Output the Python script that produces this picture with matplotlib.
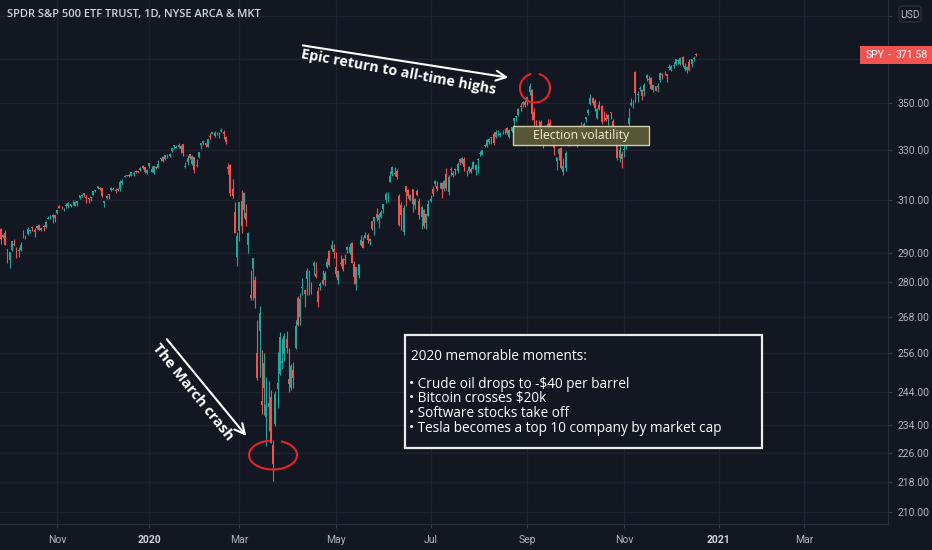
import matplotlib
matplotlib.use("Agg")
import matplotlib.pyplot as plt
import matplotlib.transforms as mtransforms
from matplotlib.patches import Rectangle, Arc, FancyBboxPatch
import pandas as pd

# SPY daily candles, 27 Sep 2019 - 17 Dec 2020
opens = [
    # Sep 2019
    299.0, 295.9,
    # Oct 2019
    297.7, 291.5, 287.8, 291.1, 293.6, 291.0, 290.8, 291.2, 296.3, 295.9, 297.1, 298.4,
    299.7, 298.7, 299.4, 300.6, 298.7, 300.0, 299.7, 302.9, 303.0, 303.4, 304.1,
    # Nov 2019
    304.9, 307.9, 307.1, 306.8, 307.8, 307.6, 307.6, 308.7, 307.8, 308.7, 310.9, 311.5,
    312.7, 311.3, 310.8, 311.1, 312.1, 313.4, 314.6, 314.8,
    # Dec 2019
    314.6, 308.7, 310.7, 312.2, 314.1, 314.4, 313.8, 314.0, 314.4, 316.8, 319.2, 319.8,
    320.0, 319.5, 320.4, 321.6, 321.5, 321.7, 323.7, 323.0, 320.5,
    # Jan 2020
    323.5, 321.2, 320.5, 323.0, 322.9, 326.2, 327.3, 326.4, 327.5, 327.4, 329.7, 331.7,
    330.9, 332.1, 330.6, 332.4, 323.0, 325.0, 328.4, 324.4, 327.0,
    # Feb 2020
    323.4, 327.1, 332.3, 333.0, 332.8, 331.2, 336.0, 336.9, 335.9, 337.5, 336.5, 337.8,
    337.7, 335.5, 323.1, 323.9, 314.2, 305.5, 288.7,
    # Mar 2020
    298.2, 309.5, 306.1, 305.0, 293.1, 275.3, 284.6, 280.7, 256.0, 263.1, 241.2, 245.0,
    236.3, 239.3, 242.5, 228.2, 234.4, 244.9, 249.5, 252.8, 255.7, 260.6,
    # Apr 2020
    248.0, 245.2, 250.8, 257.8, 274.2, 268.0, 277.6, 277.1, 281.0, 277.6, 279.2, 285.4,
    282.6, 276.7, 278.4, 280.5, 280.7, 285.1, 291.0, 291.5, 291.7,
    # May 2020
    285.3, 280.7, 286.6, 288.0, 287.8, 291.1, 290.3, 293.8, 286.1, 279.0, 282.4, 293.1,
    294.4, 295.8, 296.8, 294.6, 301.9, 302.1, 304.7, 302.5,
    # Jun 2020
    303.6, 306.6, 310.2, 311.1, 317.2, 320.2, 320.3, 321.4, 311.5, 308.2, 298.0, 315.5,
    314.1, 310.0, 314.2, 308.0, 313.5, 309.8, 303.5, 306.2, 301.4, 304.0,
    # Jul 2020
    309.6, 314.2, 316.4, 315.4, 316.2, 316.8, 314.3, 320.1, 313.3, 322.4, 319.8, 322.4,
    321.4, 326.5, 324.6, 326.5, 321.0, 321.6, 322.4, 322.1, 321.9, 325.9,
    # Aug 2020
    328.3, 327.9, 331.5, 331.5, 333.3, 335.1, 336.9, 335.4, 336.6, 336.4, 337.9, 338.3,
    339.1, 335.4, 337.9, 342.1, 344.1, 344.8, 348.5, 349.4, 350.4,
    # Sep 2020
    350.4, 354.7, 355.9, 346.1, 336.7, 337.6, 341.8, 335.8, 337.5, 341.1, 341.5, 333.6,
    335.4, 325.7, 328.6, 330.9, 321.2, 322.6, 333.2, 334.0, 333.1,
    # Oct 2020
    337.7, 331.7, 336.1, 339.9, 338.1, 342.9, 345.6, 349.6, 352.3, 350.8, 343.7, 349.0,
    348.7, 343.5, 343.3, 343.0, 345.9, 342.1, 339.8, 332.1, 326.9, 328.3,
    # Nov 2020
    330.2, 333.7, 340.9, 349.2, 349.9, 364.0, 353.5, 356.4, 355.6, 355.3, 361.0, 360.0,
    360.9, 355.6, 357.5, 357.3, 360.2, 363.1, 363.8, 362.8,
    # Dec 2020
    365.6, 364.8, 366.7, 367.3, 369.0, 367.7, 370.9, 365.4, 364.9, 368.6, 367.4, 369.8,
    371.9,
]

highs = [
    299.3, 297.3,
    298.5, 291.5, 290.5, 294.7, 295.4, 292.3, 292.3, 294.2, 298.7, 296.7, 299.7, 299.1,
    300.2, 299.4, 300.2, 300.9, 299.7, 300.5, 302.2, 303.9, 304.2, 304.5, 304.1,
    306.2, 308.0, 307.9, 307.1, 309.0, 309.1, 308.6, 310.1, 309.5, 309.8, 311.8, 312.2,
    312.7, 311.9, 311.0, 311.2, 313.4, 314.1, 315.5, 315.1,
    314.7, 309.7, 312.1, 312.3, 315.3, 315.2, 314.6, 314.7, 318.0, 318.4, 320.0, 320.0,
    320.3, 320.9, 321.6, 321.7, 321.5, 323.0, 323.8, 323.1, 322.1,
    324.9, 323.6, 323.7, 323.5, 325.8, 326.7, 327.5, 328.0, 328.6, 329.0, 331.0, 332.0,
    332.2, 332.9, 332.0, 332.6, 325.1, 327.9, 328.6, 327.9, 327.2,
    326.2, 329.1, 333.1, 334.2, 333.0, 334.8, 337.0, 337.6, 338.1, 337.7, 337.7, 339.1,
    338.6, 336.0, 324.6, 324.2, 318.1, 309.2, 297.9,
    309.2, 313.8, 313.1, 308.5, 297.9, 284.2, 288.5, 281.9, 266.7, 271.5, 256.9, 256.2,
    248.4, 247.4, 244.5, 229.7, 244.1, 256.4, 262.8, 260.8, 262.4, 263.3,
    257.7, 252.7, 253.3, 267.0, 275.0, 276.0, 281.2, 277.5, 284.9, 283.9, 280.0, 287.3,
    286.8, 278.0, 280.0, 283.9, 283.7, 288.3, 291.4, 294.9, 293.3,
    290.7, 283.9, 289.3, 288.5, 289.8, 292.9, 294.0, 294.2, 287.2, 285.1, 286.3, 296.8,
    296.2, 297.9, 297.7, 295.6, 302.2, 303.6, 306.8, 305.0,
    306.2, 308.4, 313.2, 313.0, 321.3, 323.4, 323.3, 322.4, 312.2, 309.1, 308.3, 315.6,
    314.4, 312.3, 314.4, 310.7, 314.5, 311.0, 307.6, 306.4, 304.6, 310.2,
    311.9, 315.7, 317.9, 317.5, 317.1, 317.1, 317.9, 322.7, 319.8, 323.0, 321.3, 322.6,
    325.1, 326.9, 327.2, 327.2, 322.0, 323.4, 323.0, 325.7, 324.4, 326.6,
    329.6, 330.1, 332.4, 334.5, 334.9, 335.6, 337.5, 338.3, 338.3, 337.4, 338.3, 339.1,
    339.6, 338.8, 339.7, 343.5, 344.2, 347.9, 349.9, 350.7, 351.3,
    352.7, 358.8, 356.4, 347.8, 342.6, 342.5, 342.5, 337.0, 340.4, 343.1, 343.1, 337.7,
    335.5, 327.1, 330.9, 331.2, 326.8, 329.6, 335.0, 335.0, 338.3,
    338.7, 337.0, 340.0, 342.0, 341.6, 343.9, 347.4, 354.0, 352.5, 351.9, 348.0, 350.8,
    349.3, 346.4, 345.7, 345.2, 346.0, 343.0, 340.1, 338.3, 333.4, 329.7,
    332.4, 338.3, 347.9, 352.2, 351.5, 364.4, 355.2, 357.6, 356.4, 358.9, 362.8, 361.9,
    361.5, 358.2, 357.7, 358.8, 363.8, 363.2, 364.2, 363.1,
    367.7, 367.0, 368.2, 369.9, 369.6, 370.8, 371.1, 367.9, 366.7, 369.8, 369.6, 371.2,
    372.5,
]

lows = [
    293.6, 295.6,
    293.1, 286.6, 284.8, 290.9, 292.7, 288.4, 288.7, 290.8, 295.6, 295.4, 296.9, 297.7,
    298.1, 296.2, 298.9, 298.6, 298.2, 298.2, 299.3, 302.8, 302.9, 301.4, 301.6,
    304.8, 306.9, 306.5, 305.7, 306.9, 307.1, 307.5, 308.2, 307.7, 307.9, 310.4, 311.1,
    311.3, 308.7, 308.9, 309.5, 312.0, 313.1, 314.4, 314.1,
    311.2, 307.2, 310.3, 310.6, 313.6, 313.8, 312.8, 313.4, 313.6, 316.1, 318.9, 319.3,
    319.1, 319.3, 319.6, 320.8, 320.8, 321.6, 322.3, 320.6, 320.2,
    322.5, 321.1, 320.4, 322.2, 322.7, 325.5, 325.2, 325.9, 326.8, 327.3, 329.3, 330.6,
    330.8, 330.9, 328.9, 327.4, 322.7, 323.8, 326.4, 323.8, 320.7,
    323.2, 326.9, 330.4, 332.3, 331.2, 331.2, 334.7, 336.6, 335.6, 336.1, 335.2, 337.5,
    334.6, 332.6, 320.4, 311.7, 310.7, 297.5, 285.5,
    294.5, 297.6, 303.3, 300.0, 290.3, 273.5, 273.5, 270.9, 247.7, 248.5, 237.4, 237.0,
    228.0, 232.2, 228.8, 218.3, 233.8, 239.1, 249.0, 251.1, 253.5, 256.2,
    243.9, 244.6, 245.2, 257.3, 264.9, 265.3, 275.5, 271.4, 275.5, 275.5, 275.8, 282.4,
    281.4, 271.1, 276.9, 278.9, 278.5, 284.9, 285.4, 290.8, 288.4,
    281.5, 279.1, 285.6, 283.8, 286.3, 290.0, 289.9, 286.5, 279.0, 276.9, 281.3, 292.7,
    292.0, 295.5, 293.7, 293.1, 298.7, 296.9, 302.2, 299.5,
    303.1, 305.1, 308.8, 309.1, 317.0, 319.6, 319.6, 318.2, 300.0, 298.6, 296.7, 307.7,
    310.8, 309.5, 305.6, 306.5, 311.6, 302.8, 299.0, 299.4, 298.9, 303.8,
    309.1, 311.5, 315.4, 313.4, 314.7, 310.7, 313.4, 314.1, 312.0, 319.5, 319.1, 319.8,
    320.6, 323.9, 324.5, 321.5, 319.3, 320.8, 320.6, 322.1, 319.8, 320.6,
    327.7, 327.9, 331.2, 331.1, 332.4, 332.4, 332.0, 335.0, 335.8, 335.6, 336.9, 336.6,
    336.6, 335.2, 337.5, 339.5, 342.3, 344.5, 346.5, 348.1, 348.1,
    349.2, 353.4, 342.6, 334.9, 332.9, 336.6, 332.9, 331.0, 336.6, 338.4, 338.6, 333.0,
    328.0, 321.7, 325.9, 322.1, 319.8, 321.6, 331.6, 331.6, 332.9,
    335.0, 331.2, 336.0, 334.4, 338.1, 341.9, 344.9, 349.1, 349.1, 346.5, 343.1, 347.1,
    341.0, 342.4, 342.3, 340.6, 343.1, 335.6, 337.5, 326.1, 325.1, 322.6,
    327.2, 330.3, 339.6, 348.9, 347.7, 350.5, 350.5, 355.1, 351.3, 353.2, 359.6, 358.3,
    356.2, 354.7, 355.2, 354.9, 359.3, 360.6, 362.6, 359.2,
    364.9, 364.2, 365.5, 367.2, 367.7, 367.0, 366.0, 364.4, 363.3, 364.5, 365.9, 368.7,
    371.0,
]

closes = [
    295.4, 296.8,
    293.2, 288.1, 290.4, 294.4, 293.1, 288.5, 291.3, 293.2, 296.3, 296.0, 298.9, 298.4,
    299.3, 298.0, 300.0, 298.7, 299.3, 299.9, 301.6, 303.3, 303.2, 304.1, 303.3,
    306.1, 307.1, 306.8, 307.0, 308.2, 309.0, 308.4, 308.9, 309.1, 309.6, 311.8, 312.0,
    311.9, 310.8, 310.3, 311.0, 313.4, 314.1, 315.5, 314.3,
    311.6, 309.6, 311.5, 312.0, 314.9, 313.9, 313.5, 314.4, 317.1, 317.3, 319.5, 319.6,
    319.4, 320.9, 320.7, 321.2, 321.2, 322.9, 322.9, 321.1, 321.9,
    324.9, 322.4, 323.6, 322.7, 324.5, 326.7, 325.7, 327.9, 327.5, 328.2, 331.0, 332.0,
    331.3, 331.3, 331.7, 328.8, 323.5, 326.9, 326.6, 327.7, 321.7,
    324.1, 329.1, 332.9, 333.9, 332.2, 334.7, 335.3, 337.4, 337.1, 337.6, 336.7, 338.3,
    336.9, 333.5, 322.4, 312.7, 311.5, 297.5, 296.3,
    309.1, 300.2, 312.9, 302.5, 297.5, 274.2, 288.4, 274.4, 248.1, 269.3, 239.9, 252.8,
    240.0, 240.5, 228.8, 223.0, 243.2, 246.8, 261.2, 253.4, 261.7, 257.8,
    246.2, 251.8, 248.2, 264.9, 265.1, 274.0, 278.2, 275.7, 283.8, 277.8, 279.1, 286.6,
    281.6, 273.0, 279.1, 279.1, 283.0, 287.1, 285.7, 293.2, 290.5,
    282.8, 283.6, 286.2, 284.3, 287.7, 292.4, 292.5, 286.7, 281.6, 285.0, 286.3, 295.0,
    292.0, 296.9, 294.9, 295.4, 299.1, 303.5, 303.0, 304.3,
    305.6, 308.4, 312.2, 311.4, 319.3, 323.2, 320.8, 319.0, 300.6, 304.2, 307.1, 313.0,
    311.7, 311.8, 308.6, 310.6, 312.1, 304.1, 307.4, 300.1, 304.5, 308.4,
    310.5, 312.2, 317.6, 314.4, 316.2, 314.4, 317.6, 314.8, 318.9, 321.9, 320.8, 321.7,
    324.3, 325.0, 326.9, 323.0, 320.9, 323.2, 321.2, 325.1, 324.0, 326.5,
    328.8, 330.1, 332.1, 334.3, 334.6, 335.6, 332.8, 337.4, 336.8, 336.8, 337.9, 338.6,
    337.2, 338.3, 339.5, 343.4, 344.1, 347.6, 348.3, 350.6, 349.3,
    352.6, 357.7, 345.4, 342.6, 333.2, 339.8, 333.9, 334.1, 338.5, 340.2, 338.8, 335.8,
    330.7, 327.0, 330.3, 322.6, 323.5, 328.7, 334.2, 332.4, 334.9,
    337.0, 333.8, 339.8, 334.9, 340.8, 343.8, 346.9, 352.4, 350.1, 347.9, 347.5, 347.3,
    342.0, 343.4, 342.7, 344.6, 345.8, 339.4, 338.2, 326.7, 330.0, 326.5,
    330.2, 336.0, 343.5, 350.2, 350.2, 354.6, 354.0, 356.7, 353.2, 358.1, 362.6, 360.6,
    356.3, 357.8, 355.3, 357.5, 363.2, 362.7, 363.7, 362.1,
    366.0, 366.8, 366.7, 369.9, 369.1, 370.2, 366.9, 366.7, 366.3, 364.7, 369.6, 370.2,
    371.58,
]

price_ticks = [210, 218, 226, 234, 244, 256, 268, 280, 290, 310, 330, 350, 370, 390]
hidden_ticks = [370, 390]   # covered by the price tag / currency badge
holidays = ["2019-11-28", "2019-12-25", "2020-01-01", "2020-01-20", "2020-02-17",
            "2020-04-10", "2020-05-25", "2020-07-03", "2020-09-07", "2020-11-26",
            "2020-12-25", "2021-01-01", "2021-01-18", "2021-02-15"]
moments = ["Crude oil drops to -$40 per barrel", "Bitcoin crosses $20k",
           "Software stocks take off", "Tesla becomes a top 10 company by market cap"]

n = len(closes)
if not (len(opens) == len(highs) == len(lows) == n):
    raise ValueError((len(opens), len(highs), len(lows), n))

days = pd.bdate_range("2019-09-27", "2021-03-31", freq="C", holidays=holidays)

BG = "#131722"
GRID = "#1f2330"
TXT = "#b2b5be"
UP, DOWN = "#26a69a", "#ef5350"
W, H = 932, 550

fig = plt.figure(figsize=(W / 100, H / 100), dpi=100, facecolor=BG)
ax = fig.add_axes([0, 26 / H, 888 / W, 524 / H])
ax.set_facecolor(BG)

# candles
xs = list(range(n))
cols = [UP if c >= o else DOWN for o, c in zip(opens, closes)]
hi = [max(h, o, c) for h, o, c in zip(highs, opens, closes)]
lo = [min(l, o, c) for l, o, c in zip(lows, opens, closes)]
ax.vlines(xs, lo, hi, colors=cols, lw=0.8, zorder=3)
body_lo = [min(o, c) for o, c in zip(opens, closes)]
body_h = [max(abs(c - o), 0.15) for o, c in zip(opens, closes)]
ax.bar(xs, body_h, bottom=body_lo, width=0.72, color=cols, lw=0, zorder=4)

# price axis (log)
ax.set_yscale("log")
ax.set_ylim(206.8, 398.1)
ax.yaxis.set_major_locator(matplotlib.ticker.FixedLocator(price_ticks))
ax.yaxis.set_minor_locator(matplotlib.ticker.NullLocator())
ax.yaxis.set_major_formatter(matplotlib.ticker.FuncFormatter(
    lambda v, p: "" if round(v) in hidden_ticks else f"{v:.2f}"))
ax.yaxis.tick_right()
ax.tick_params(axis="y", colors=TXT, labelsize=7.5, length=3, width=0.8, pad=4,
               color="#363a45")
for lab in ax.get_yticklabels():
    lab.set_fontfamily("Roboto")

# time axis: trading-day index
i_nov = int((days < pd.Timestamp("2019-11-01")).sum())
ax.set_xlim(i_nov - 57 / 2.25, i_nov + (888 - 57) / 2.25)
tick_pos, tick_lab = [], []
for k in range(1, len(days)):
    if days[k].month != days[k - 1].month and days[k].month % 2 == 1:
        tick_pos.append(k)
        tick_lab.append(str(days[k].year) if days[k].month == 1 else days[k].strftime("%b"))
ax.set_xticks(tick_pos)
ax.set_xticklabels(tick_lab)
ax.tick_params(axis="x", colors=TXT, labelsize=7.5, length=3, width=0.8, pad=5,
               color="#363a45")
for lab in ax.get_xticklabels():
    lab.set_fontfamily("Roboto")
    if lab.get_text().isdigit():
        lab.set_color("#d1d4dc")
        lab.set_fontweight("bold")

ax.grid(True, color=GRID, lw=1, zorder=0)
for s in ["top", "left"]:
    ax.spines[s].set_visible(False)
ax.spines["right"].set_color("#2a2e39")
ax.spines["bottom"].set_color("#2a2e39")

# pixel coordinates for the drawings (origin top-left)
pix = mtransforms.Affine2D().scale(1 / W, -1 / H).translate(0, 1) + fig.transFigure

fig.text(7, 15, "SPDR S&P 500 ETF TRUST, 1D, NYSE ARCA & MKT", transform=pix,
         color="#d1d4dc", fontsize=8, family="Open Sans", fontweight="semibold",
         va="center", ha="left")

# epic return arrow + text
ax.annotate("", xy=(511, 78), xytext=(300, 45), xycoords=pix, textcoords=pix,
            arrowprops=dict(arrowstyle="->", color="white", lw=1.5, mutation_scale=18))
fig.text(399, 72, "Epic return to all-time highs", transform=pix, color="white",
         fontsize=10.3, family="Open Sans", fontweight="bold", rotation=-10.5,
         ha="center", va="center", rotation_mode="anchor")

# march crash arrow + text
ax.annotate("", xy=(248, 438), xytext=(165, 337), xycoords=pix, textcoords=pix,
            arrowprops=dict(arrowstyle="->", color="white", lw=1.5, mutation_scale=18))
fig.text(193, 392, "The March crash", transform=pix, color="white",
         fontsize=10.5, family="Open Sans", fontweight="bold", rotation=-51,
         ha="center", va="center", rotation_mode="anchor")

# red circles
fig.patches.append(Arc((535, 88), 30, 29, theta1=285, theta2=615, transform=pix,
                       color="#e3242b", lw=1.5))
fig.patches.append(Arc((273, 455), 48, 29, theta1=300, theta2=620, transform=pix,
                       color="#e3242b", lw=1.5))

# election volatility label
fig.patches.append(Rectangle((513, 126), 136, 19, transform=pix, facecolor="#5b5a36",
                             edgecolor="#d8d6b4", lw=1, alpha=0.95))
fig.text(581, 136, "Election volatility", transform=pix, color="#f2f0d6", fontsize=8.8,
         family="Open Sans", ha="center", va="center")

# memorable moments box
fig.patches.append(Rectangle((405, 335), 357, 113, transform=pix, facecolor=BG,
                             edgecolor="white", lw=1.6, alpha=0.92))
fig.text(411, 356, "2020 memorable moments:", transform=pix, color="white", fontsize=9.8,
         family="Open Sans", ha="left", va="center")
for j, line in enumerate(moments):
    fig.text(409, 384 + j * 14.7, "\u2022 " + line, transform=pix, color="white",
             fontsize=9.8, family="Open Sans", ha="left", va="center")

# last price tag
fig.patches.append(Rectangle((860, 46), 72, 18, transform=pix, facecolor="#f05350",
                             edgecolor="none"))
fig.text(875, 55.5, "SPY", transform=pix, color="white", fontsize=7.5, family="Roboto",
         ha="center", va="center")
fig.text(889, 55.5, "-", transform=pix, color="white", fontsize=7.5, family="Roboto",
         ha="center", va="center")
fig.text(912, 55.5, f"{closes[-1]:.2f}", transform=pix, color="white", fontsize=7.5,
         family="Roboto", ha="center", va="center")

# currency badge
fig.patches.append(FancyBboxPatch((899, 6), 22, 16, boxstyle="round,pad=0,rounding_size=3",
                                  transform=pix, facecolor=BG, edgecolor="#2a2e39", lw=1))
fig.text(910, 14.5, "USD", transform=pix, color=TXT, fontsize=7.5, family="Roboto",
         ha="center", va="center")

fig.savefig("out.png", dpi=100, facecolor=BG)
